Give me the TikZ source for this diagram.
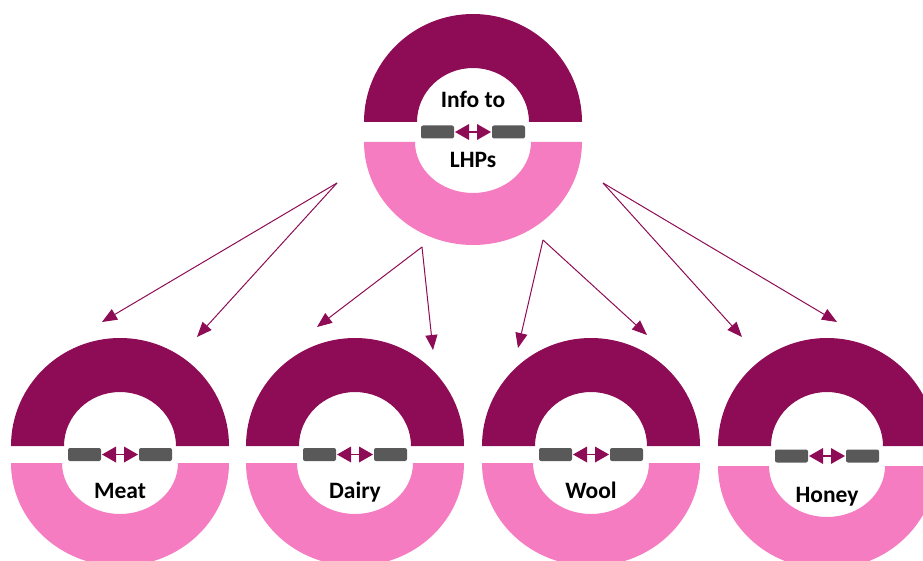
\documentclass[tikz,border=0pt]{standalone}
\usepackage{fontspec}
\setmainfont{Carlito}
\usetikzlibrary{arrows.meta}
\definecolor{darkring}{HTML}{8E0C55}
\definecolor{pinkring}{HTML}{F57CC0}
\definecolor{bargray}{HTML}{595959}
\tikzset{
  lbl/.style={font=\bfseries\fontsize{23.5}{27}\selectfont, anchor=base, inner sep=0pt, text=black},
  flow/.style={draw=darkring, line width=1pt, -{Triangle[length=15pt,width=12pt]}},
  barbox/.style={fill=bargray, rounded corners=2pt},
}
% #1 cx, #2 upper flat y, #3 lower flat y, #4 name
\newcommand\mydonut[4]{%
  \fill[darkring] (#1-109,#2) arc[start angle=180,end angle=360,x radius=109,y radius=108]
     -- (#1+56,#2) arc[start angle=0,end angle=-180,x radius=56,y radius=54] -- cycle;
  \fill[pinkring] (#1-109,#3) arc[start angle=180,end angle=0,x radius=109,y radius=103]
     -- (#1+58,#3) arc[start angle=0,end angle=180,x radius=58,y radius=51] -- cycle;
  \coordinate (#4c) at (#1,{(#2+#3)/2});
  \fill[barbox] ([xshift=-52pt,yshift=-6.5pt]#4c) rectangle ([xshift=-19pt,yshift=6.5pt]#4c);
  \fill[barbox] ([xshift=19pt,yshift=-6.5pt]#4c) rectangle ([xshift=52pt,yshift=6.5pt]#4c);
  \fill[darkring] ([xshift=-18pt]#4c) -- ([xshift=-4pt,yshift=-8pt]#4c) -- ([xshift=-4pt,yshift=8pt]#4c) -- cycle;
  \fill[darkring] ([xshift=18pt]#4c) -- ([xshift=4pt,yshift=-8pt]#4c) -- ([xshift=4pt,yshift=8pt]#4c) -- cycle;
  \draw[darkring, line width=1.2pt] ([xshift=-4pt]#4c) -- ([xshift=4pt]#4c);
}
\begin{document}
\begin{tikzpicture}[x=1pt,y=-1pt]
\useasboundingbox (0,0) rectangle (923,561);
\clip (0,0) rectangle (923,561);
\mydonut{473}{122}{142}{top}
\mydonut{120}{446}{463}{meat}
\mydonut{355}{446}{463}{dairy}
\mydonut{591}{446}{463}{wool}
\mydonut{827}{446}{466}{honey}
\node[lbl] (t1) at (473,108) {Info to};
\node[lbl] (t2) at (473,168) {LHPs};
\node[lbl] (lmeat) at (120,498) {Meat};
\node[lbl] (ldairy) at (355,498) {Dairy};
\node[lbl] (lwool) at (591,498) {Wool};
\node[lbl] (lhoney) at (827,502) {Honey};
% connector origins
\coordinate (s1) at (337,183);
\coordinate (s2) at (422,247);
\coordinate (s3) at (543,240);
\coordinate (s4) at (603,183);
% connector tips
\coordinate (e1) at (102,322);
\coordinate (e2) at (197,337);
\coordinate (e3) at (317,327);
\coordinate (e4) at (433,350);
\coordinate (e5) at (518,348);
\coordinate (e6) at (647,335);
\coordinate (e7) at (742,337);
\coordinate (e8) at (837,322);
\draw[flow] (s1) -- (e1);
\draw[flow] (s1) -- (e2);
\draw[flow] (s2) -- (e3);
\draw[flow] (s2) -- (e4);
\draw[flow] (s3) -- (e5);
\draw[flow] (s3) -- (e6);
\draw[flow] (s4) -- (e7);
\draw[flow] (s4) -- (e8);
\end{tikzpicture}
\end{document}
